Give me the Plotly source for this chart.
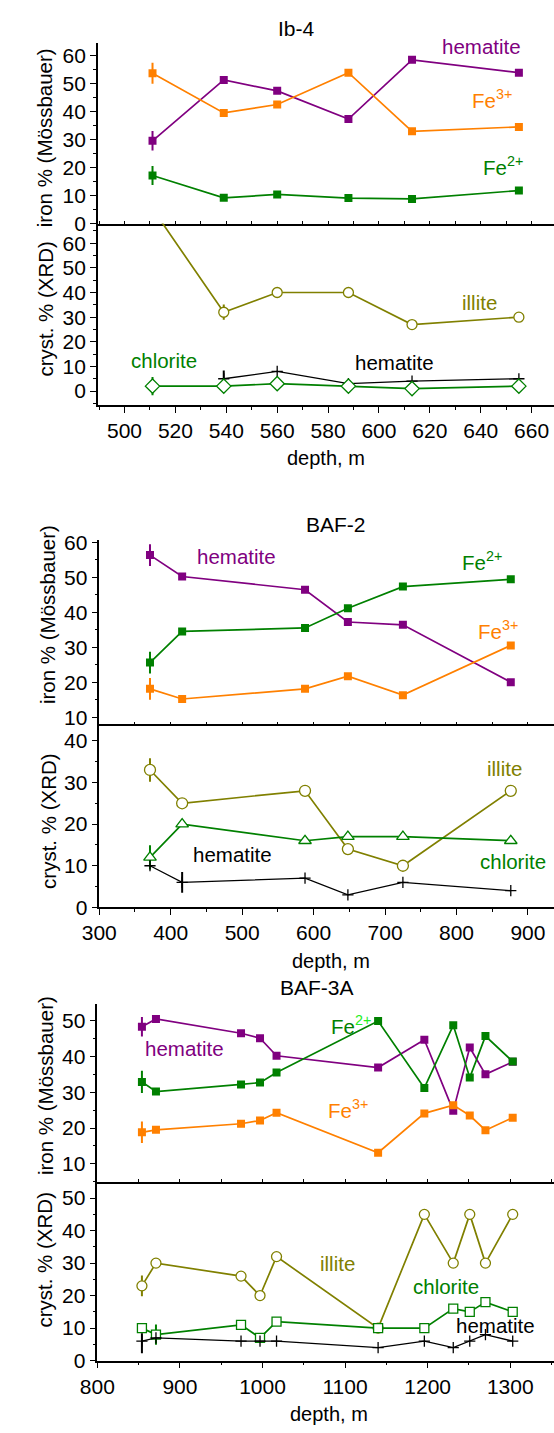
import plotly.graph_objects as go

# ---------------- data ----------------
# Ib-4
depth_ib4 = [511, 539, 560, 588, 613, 655]
ib4_hematite = [29.6, 51.4, 47.5, 37.4, 58.6, 54.0]
ib4_fe3 = [53.8, 39.6, 42.6, 54.0, 33.0, 34.6]
ib4_fe2 = [17.2, 9.2, 10.4, 9.1, 8.8, 11.8]
ib4_illite = [74, 32, 40, 40, 27, 30]
depth_ib4_hx = [539, 560, 588, 613, 655]
ib4_hem_xrd = [5, 8, 3, 4, 5]
ib4_chlorite = [2, 2, 3, 2, 1, 2]
ib4_err_hem = [3.5, 0, 0, 0, 0, 0]
ib4_err_fe3 = [3.8, 0, 0, 0, 0, 0]
ib4_err_fe2 = [3.4, 0, 0, 0, 0, 0]
ib4_err_ill = [0, 3.1, 0, 0, 0, 0]
ib4_err_hx = [3.3, 0, 0, 0, 0]
ib4_err_chl = [3.7, 0, 0, 0, 0, 0]

# BAF-2
depth_baf2 = [371, 416, 588, 648, 725, 876]
baf2_hematite = [56.3, 50.2, 46.4, 37.2, 36.4, 20.0]
baf2_fe2 = [25.6, 34.5, 35.5, 41.1, 47.3, 49.4]
baf2_fe3 = [18.1, 15.2, 18.1, 21.7, 16.3, 30.5]
baf2_illite = [33, 25, 28, 14, 10, 28]
baf2_chlorite = [12, 20, 16, 17, 17, 16]
baf2_hem_xrd = [10, 6, 7, 3, 6, 4]
baf2_err_hem = [3.1, 0, 0, 0, 0, 0]
baf2_err_fe2 = [3.1, 0, 0, 0, 0, 0]
baf2_err_fe3 = [3.1, 0, 0, 0, 0, 0]
baf2_err_ill = [2.8, 0, 0, 0, 0, 0]
baf2_err_chl = [2.9, 0, 0, 0, 0, 0]
baf2_err_hx = [0, 2.5, 0, 0, 0, 0]

# BAF-3A
depth_baf3 = [854, 871, 974, 997, 1017, 1140, 1196, 1231, 1251, 1270, 1303]
baf3_hematite = [48.3, 50.5, 46.5, 45.1, 40.2, 36.9, 44.7, 24.8, 42.5, 35.0, 38.5]
baf3_fe2 = [32.9, 30.2, 32.2, 32.7, 35.5, 49.9, 31.2, 48.7, 34.1, 45.7, 38.6]
baf3_fe3 = [18.8, 19.5, 21.2, 22.1, 24.3, 13.1, 24.1, 26.4, 23.5, 19.4, 22.9]
baf3_illite = [23, 30, 26, 20, 32, 10, 45, 30, 45, 30, 45]
baf3_chlorite = [10, 8, 11, 7, 12, 10, 10, 16, 15, 18, 15]
baf3_hem_xrd = [6, 7, 6, 6, 6, 4, 6, 4, 6, 8, 6]
z11 = [0] * 11
baf3_err_hem = [2.75] + z11[1:]
baf3_err_fe2 = [3.1] + z11[1:]
baf3_err_fe3 = [3.0] + z11[1:]
baf3_err_ill = [3.2] + z11[1:]
baf3_err_chl = [0, 3.1] + z11[2:]
baf3_err_hx_p = [2.4] + z11[1:]
baf3_err_hx_m = [3.7] + z11[1:]

# ---------------- style ----------------
PURPLE = "#800080"
ORANGE = "#ff8000"
GREEN = "#008000"
OLIVE = "#808000"
BLACK = "#000000"
FONT = "Liberation Sans, Arial, sans-serif"
W, H = 554, 1433


def fx(px):
    return px / W


def fy(py):
    return 1 - py / H


fig = go.Figure()


def add(x, y, color, xa, ya, symbol="square", size=8, err=None, errm=None,
        fill=None, lw=1.7, mlw=0):
    marker = dict(symbol=symbol, size=size, color=fill if fill else color,
                  line=dict(color=color, width=mlw))
    tr = go.Scatter(x=x, y=y, mode="lines+markers", xaxis=xa, yaxis=ya,
                    line=dict(color=color, width=lw), marker=marker,
                    showlegend=False, hoverinfo="skip")
    if err is not None:
        ed = dict(type="data", array=err, visible=True, width=0,
                  thickness=2, color=color)
        if errm is not None:
            ed["symmetric"] = False
            ed["arrayminus"] = errm
        tr.error_y = ed
    fig.add_trace(tr)


# Panel 1: Ib-4
add(depth_ib4, ib4_hematite, PURPLE, "x", "y", err=ib4_err_hem)
add(depth_ib4, ib4_fe3, ORANGE, "x", "y", err=ib4_err_fe3)
add(depth_ib4, ib4_fe2, GREEN, "x", "y", err=ib4_err_fe2)
add(depth_ib4, ib4_illite, OLIVE, "x2", "y2", symbol="circle", size=10,
    fill="white", mlw=1.3, err=ib4_err_ill)
add(depth_ib4_hx, ib4_hem_xrd, BLACK, "x2", "y2", symbol="cross-thin", size=8,
    mlw=1.3, lw=1.3, err=ib4_err_hx)
add(depth_ib4, ib4_chlorite, GREEN, "x2", "y2", symbol="diamond", size=11,
    fill="white", mlw=1.3, err=ib4_err_chl)

# Panel 2: BAF-2
add(depth_baf2, baf2_hematite, PURPLE, "x3", "y3", err=baf2_err_hem)
add(depth_baf2, baf2_fe2, GREEN, "x3", "y3", err=baf2_err_fe2)
add(depth_baf2, baf2_fe3, ORANGE, "x3", "y3", err=baf2_err_fe3)
add(depth_baf2, baf2_illite, OLIVE, "x4", "y4", symbol="circle", size=11,
    fill="white", mlw=1.3, err=baf2_err_ill)
add(depth_baf2, baf2_chlorite, GREEN, "x4", "y4", symbol="triangle-up", size=11,
    fill="white", mlw=1.3, err=baf2_err_chl)
add(depth_baf2, baf2_hem_xrd, BLACK, "x4", "y4", symbol="cross-thin", size=8,
    mlw=1.3, lw=1.3, err=baf2_err_hx)

# Panel 3: BAF-3A
add(depth_baf3, baf3_hematite, PURPLE, "x5", "y5", err=baf3_err_hem)
add(depth_baf3, baf3_fe2, GREEN, "x5", "y5", err=baf3_err_fe2)
add(depth_baf3, baf3_fe3, ORANGE, "x5", "y5", err=baf3_err_fe3)
add(depth_baf3, baf3_illite, OLIVE, "x6", "y6", symbol="circle", size=10,
    fill="white", mlw=1.3, err=baf3_err_ill)
add(depth_baf3, baf3_chlorite, GREEN, "x6", "y6", symbol="square", size=9,
    fill="white", mlw=1.3, err=baf3_err_chl)
add(depth_baf3, baf3_hem_xrd, BLACK, "x6", "y6", symbol="cross-thin", size=8,
    mlw=1.3, lw=1.3, err=baf3_err_hx_p, errm=baf3_err_hx_m)

# ---------------- axes ----------------
tickfont = dict(family=FONT, size=21, color="black")


def xax(domain, rng, anchor, dtick, minor, labels):
    d = dict(domain=domain, range=rng, anchor=anchor, showgrid=False,
             zeroline=False, showline=True, linecolor="black", linewidth=1.5,
             tickcolor="black", dtick=dtick, tick0=0, tickfont=tickfont,
             showticklabels=labels)
    if labels:
        d.update(ticks="outside", ticklen=6, tickwidth=1.3,
                 minor=dict(ticks="outside", ticklen=3, dtick=minor,
                            tickcolor="black", tickwidth=1))
    else:
        d.update(ticks="inside", ticklen=3, tickwidth=1, dtick=minor)
    return d


def yax(domain, rng, anchor):
    return dict(domain=domain, range=rng, anchor=anchor, showgrid=False,
                zeroline=False, showline=True, linecolor="black", linewidth=1.5,
                ticks="outside", ticklen=6, tickwidth=1.3, tickcolor="black",
                dtick=10, tick0=0, tickfont=tickfont,
                minor=dict(ticks="outside", ticklen=3, dtick=5,
                           tickcolor="black", tickwidth=1))


x1dom = [fx(82.5), 1.0]
x2dom = [fx(84), 1.0]
x3dom = [fx(82), 1.0]
r1 = [489.5, 668.8]
r2 = [300, 936.5]
r3 = [800, 1353]

fig.update_layout(
    xaxis=xax(x1dom, r1, "y", 20, 10, False),
    yaxis=yax([fy(216.7), fy(33.3)], [0, 64.7], "x"),
    xaxis2=xax(x1dom, r1, "y2", 20, 10, True),
    yaxis2=yax([fy(401), fy(216.7)], [-5.7, 68], "x2"),
    xaxis3=xax(x2dom, r2, "y3", 100, 50, False),
    yaxis3=yax([fy(725), fy(538.3)], [7.95, 60.5], "x3"),
    xaxis4=xax(x2dom, r2, "y4", 100, 50, True),
    yaxis4=yax([fy(910.7), fy(725)], [0, 43.95], "x4"),
    xaxis5=xax(x3dom, r3, "y5", 100, 50, False),
    yaxis5=yax([fy(1189.3), fy(1008.3)], [4.96, 54.8], "x5"),
    xaxis6=xax(x3dom, r3, "y6", 100, 50, True),
    yaxis6=yax([fy(1370.7), fy(1189.3)], [0, 55], "x6"),
)

# ---------------- text ----------------
ann = []


def label(text, px, py, color="black", size=20.5, angle=0):
    ann.append(dict(text=text, x=fx(px), y=fy(py), xref="paper", yref="paper",
                    xanchor="center", yanchor="middle", showarrow=False,
                    textangle=angle,
                    font=dict(family=FONT, size=size, color=color)))


# titles
label("Ib-4", 287.5, 18.3, size=21)
label("BAF-2", 329, 521.7, size=21)
label("BAF-3A", 309, 991.7, size=21)
# x titles
label("depth, m", 318, 455, size=20)
label("depth, m", 324, 965, size=20)
label("depth, m", 321, 1425, size=20)
# y titles
label("iron % (Mössbauer)", 27, 130, size=20.5, angle=-90)
label("cryst. % (XRD)", 29, 303, size=20.5, angle=-90)
label("iron % (Mössbauer)", 30, 614, size=20.5, angle=-90)
label("cryst. % (XRD)", 32, 823, size=20.5, angle=-90)
label("iron % (Mössbauer)", 29, 1092, size=20.5, angle=-90)
label("cryst. % (XRD)", 27, 1268, size=20.5, angle=-90)

# series labels, panel 1
label("hematite", 479, 37, PURPLE)
label("Fe<sup>3+</sup>", 490, 90, ORANGE)
label("Fe<sup>2+</sup>", 501, 158, GREEN)
label("illite", 477, 297, OLIVE)
label("hematite", 389, 358)
label("chlorite", 151, 356, GREEN)
# panel 2
label("hematite", 226, 555, PURPLE)
label("Fe<sup>2+</sup>", 480, 559, GREEN)
label("Fe<sup>3+</sup>", 496, 629, ORANGE)
label("illite", 503, 770, OLIVE)
label("hematite", 222, 857)
label("chlorite", 512, 864, GREEN)
# panel 3
label("hematite", 172, 1054, PURPLE)
label("Fe<sup><span style='color:#22ee22'>2+</span></sup>", 344, 1030, GREEN)
label("Fe<sup>3+</sup>", 341, 1115, ORANGE)
label("illite", 330, 1272, OLIVE)
label("chlorite", 442, 1295, GREEN)
label("hematite", 494, 1335)

fig.update_layout(
    annotations=ann,
    width=W, height=H,
    margin=dict(l=0, r=0, t=0, b=0),
    paper_bgcolor="white", plot_bgcolor="white",
    font=dict(family=FONT, color="black"),
    showlegend=False,
)

fig.write_html("out.html")
